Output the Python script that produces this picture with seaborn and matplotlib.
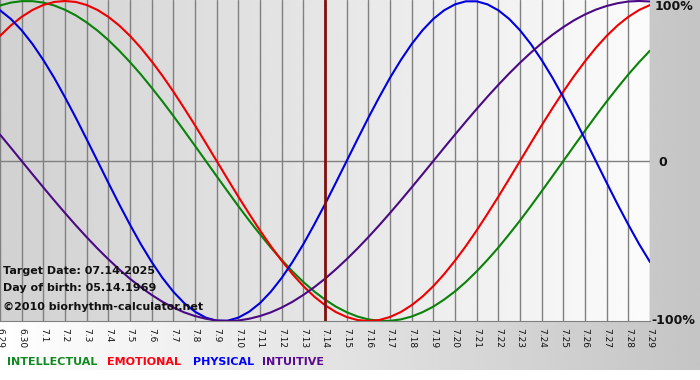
import numpy as np
import pandas as pd
import matplotlib
matplotlib.use("Agg")
import matplotlib.pyplot as plt
import seaborn as sns

# Tagesbeschriftungen (6.29 - 7.29)
days = ["6.29", "6.30"] + [f"7.{i}" for i in range(1, 30)]

# Werte, alle halben Tage (-1 .. 1)
intellectual = [0.972, 0.990, 0.999, 0.999, 0.990, 0.972, 0.945, 0.910, 0.866, 0.815,
                0.756, 0.690, 0.618, 0.541, 0.458, 0.372, 0.282, 0.189, 0.095, 0.000,
                -0.095, -0.189, -0.282, -0.372, -0.458, -0.541, -0.618, -0.690, -0.756, -0.815,
                -0.866, -0.910, -0.945, -0.972, -0.990, -0.999, -0.999, -0.990, -0.972, -0.945,
                -0.910, -0.866, -0.815, -0.756, -0.690, -0.618, -0.541, -0.458, -0.372, -0.282,
                -0.189, -0.095, 0.000, 0.095, 0.189, 0.282, 0.372, 0.458, 0.541, 0.618, 0.690]
emotional = [0.782, 0.847, 0.901, 0.944, 0.975, 0.994, 1.000, 0.994, 0.975, 0.944,
             0.901, 0.847, 0.782, 0.707, 0.623, 0.532, 0.434, 0.330, 0.223, 0.112,
             0.000, -0.112, -0.223, -0.330, -0.434, -0.532, -0.623, -0.707, -0.782, -0.847,
             -0.901, -0.944, -0.975, -0.994, -1.000, -0.994, -0.975, -0.944, -0.901, -0.847,
             -0.782, -0.707, -0.623, -0.532, -0.434, -0.330, -0.223, -0.112, 0.000, 0.112,
             0.223, 0.330, 0.434, 0.532, 0.623, 0.707, 0.782, 0.847, 0.901, 0.944, 0.975]
physical = [0.942, 0.888, 0.817, 0.731, 0.631, 0.520, 0.398, 0.270, 0.136, 0.000,
            -0.136, -0.270, -0.398, -0.520, -0.631, -0.731, -0.817, -0.888, -0.942, -0.979,
            -0.998, -0.998, -0.979, -0.942, -0.888, -0.817, -0.731, -0.631, -0.520, -0.398,
            -0.270, -0.136, 0.000, 0.136, 0.270, 0.398, 0.520, 0.631, 0.731, 0.817,
            0.888, 0.942, 0.979, 0.998, 0.998, 0.979, 0.942, 0.888, 0.817, 0.731,
            0.631, 0.520, 0.398, 0.270, 0.136, 0.000, -0.136, -0.270, -0.398, -0.520, -0.631]
intuitive = [0.165, 0.083, 0.000, -0.083, -0.165, -0.246, -0.325, -0.402, -0.476, -0.547,
             -0.614, -0.677, -0.736, -0.789, -0.837, -0.880, -0.916, -0.946, -0.969, -0.986,
             -0.997, -1.000, -0.997, -0.986, -0.969, -0.946, -0.916, -0.880, -0.837, -0.789,
             -0.736, -0.677, -0.614, -0.547, -0.476, -0.402, -0.325, -0.246, -0.165, -0.083,
             0.000, 0.083, 0.165, 0.246, 0.325, 0.402, 0.476, 0.547, 0.614, 0.677,
             0.736, 0.789, 0.837, 0.880, 0.916, 0.946, 0.969, 0.986, 0.997, 1.000, 0.997]

target_day = "7.14"
series_names = ["INTELLECTUAL", "EMOTIONAL", "PHYSICAL", "INTUITIVE"]
colors = {"INTELLECTUAL": "#0a820a", "EMOTIONAL": "#ee0000",
          "PHYSICAL": "#0000dd", "INTUITIVE": "#4b0a85"}
legend_colors = ["#108a20", "#ff0010", "#0000ff", "#5a0a90"]

# halbe Tage als x-Werte
steps = np.arange(len(physical)) / 2

df = pd.DataFrame({
    "day": np.tile(steps, 4),
    "value": intellectual + emotional + physical + intuitive,
    "type": np.repeat(series_names, len(steps)),
})

sns.set_style("white")
plt.rcParams["font.family"] = ["DejaVu Sans"]

W, H = 700, 380
fig = plt.figure(figsize=(7, 3.8), dpi=100)

# Hintergrund der ganzen Grafik: Verlauf weiss -> grau, unten weisser Streifen
bg = fig.add_axes([0, 0, 1, 1], zorder=-10)
grad = np.tile(np.linspace(1.0, 0.77, 256), (256, 1))
bg.imshow(grad, cmap="gray", vmin=0, vmax=1, extent=[0, 1, 10 / H, 1], aspect="auto")
bg.set_xlim(0, 1)
bg.set_ylim(0, 1)
bg.axis("off")

# Diagrammbereich
ax = fig.add_axes([0, 1 - 321 / H, 650 / W, 321 / H])
ymax = 1 + 1 / 160
inner = np.tile(np.linspace(0.82, 0.985, 256), (2, 1))
ax.imshow(inner, cmap="gray", vmin=0, vmax=1, extent=[0, 30, -1, ymax],
          aspect="auto", zorder=0)

sns.lineplot(data=df, x="day", y="value", hue="type", hue_order=series_names,
             palette=colors, linewidth=1.5, legend=False, ax=ax, zorder=3)

ax.set_xlim(0, 30)
ax.set_ylim(-1, ymax)
ax.set_xticks(range(len(days)))
ax.set_xticklabels(days, rotation=270, fontsize=6.5, color="#111111")
ax.set_yticks([])
ax.set_xlabel("")
ax.set_ylabel("")
ax.tick_params(axis="x", length=4, width=1, color="#808080", pad=1)
ax.grid(axis="x", color="#808080", linewidth=1, zorder=1)
ax.set_axisbelow(False)
for s in ["top", "left", "right"]:
    ax.spines[s].set_visible(False)
ax.spines["bottom"].set_color("#808080")
ax.axhline(0, color="#808080", linewidth=1, zorder=1)
ax.axvline(days.index(target_day), color="#801010", linewidth=2.0, zorder=4)

# Texte im Diagramm
info = ["Target Date: 07.14.2025", "Day of birth: 05.14.1969", "\u00a92010 biorhythm-calculator.net"]
for txt, y in zip(info, [271, 288, 307]):
    fig.text(3 / W, 1 - y / H, txt, fontsize=8, fontweight="bold", color="#111111",
             va="center", ha="left", zorder=5)

# Prozentangaben rechts
fig.text(655 / W, 1 - 7 / H, "100%", fontsize=9, fontweight="bold", color="#111111", va="center")
fig.text(658 / W, 1 - 162 / H, "0", fontsize=9, fontweight="bold", color="#111111", va="center")
fig.text(651 / W, 1 - 321 / H, "-100%", fontsize=9, fontweight="bold", color="#111111", va="center")

# Legende unten
for name, c, x in zip(series_names, legend_colors, [7, 107, 193, 262]):
    fig.text(x / W, 1 - 362 / H, name, fontsize=8, fontweight="bold", color=c, va="center")

fig.savefig("out.png", dpi=100)
